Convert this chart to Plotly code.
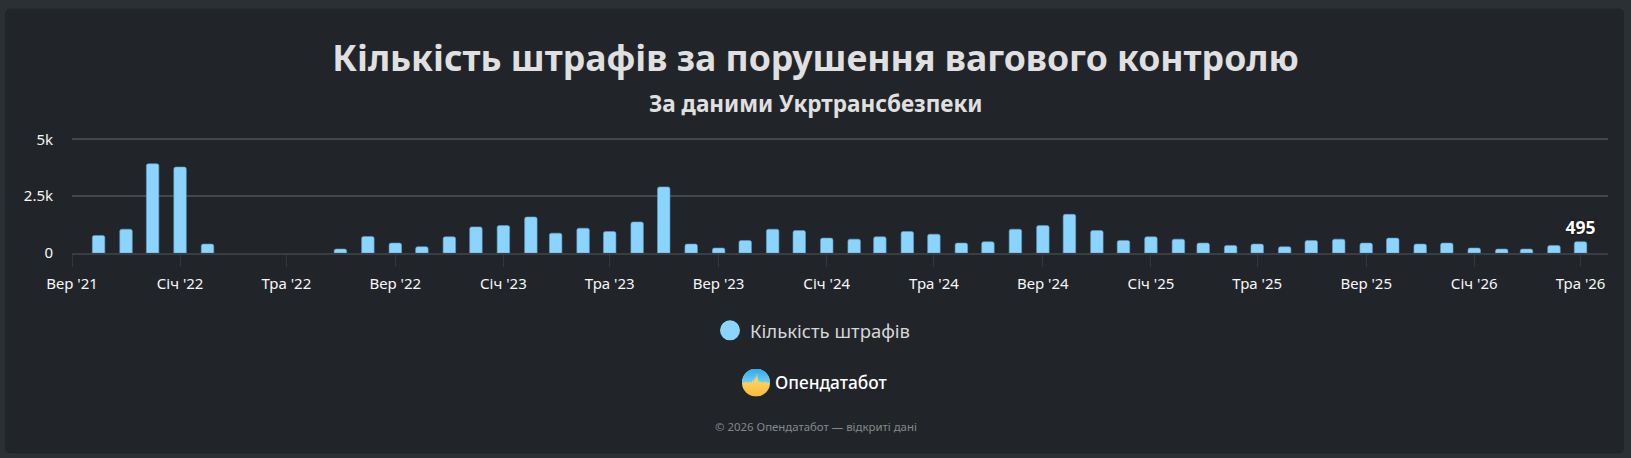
import base64
import plotly.graph_objects as go

months = [
    "2021-09-01","2021-10-01","2021-11-01","2021-12-01","2022-01-01","2022-02-01","2022-03-01","2022-04-01",
    "2022-05-01","2022-06-01","2022-07-01","2022-08-01","2022-09-01","2022-10-01","2022-11-01","2022-12-01",
    "2023-01-01","2023-02-01","2023-03-01","2023-04-01","2023-05-01","2023-06-01","2023-07-01","2023-08-01",
    "2023-09-01","2023-10-01","2023-11-01","2023-12-01","2024-01-01","2024-02-01","2024-03-01","2024-04-01",
    "2024-05-01","2024-06-01","2024-07-01","2024-08-01","2024-09-01","2024-10-01","2024-11-01","2024-12-01",
    "2025-01-01","2025-02-01","2025-03-01","2025-04-01","2025-05-01","2025-06-01","2025-07-01","2025-08-01",
    "2025-09-01","2025-10-01","2025-11-01","2025-12-01","2026-01-01","2026-02-01","2026-03-01","2026-04-01",
    "2026-05-01",
]
fines = [
    None,770,1046,3924,3779,392,None,None,
    None,None,174,727,436,276,712,1148,
    1206,1584,872,1090,945,1366,2906,392,
    218,552,1046,988,654,610,712,945,
    828,436,494,1046,1206,1700,988,552,
    712,610,436,334,392,276,552,610,
    436,654,392,436,218,174,174,334,
    495,
]
point_labels = [""] * (len(months) - 1) + ["495"]

tick_dates = [
    "2021-09-01","2022-01-01","2022-05-01","2022-09-01","2023-01-01","2023-05-01","2023-09-01",
    "2024-01-01","2024-05-01","2024-09-01","2025-01-01","2025-05-01","2025-09-01","2026-01-01","2026-05-01",
]
tick_labels = [
    "Вер '21","Січ '22","Тра '22","Вер '22","Січ '23","Тра '23","Вер '23",
    "Січ '24","Тра '24","Вер '24","Січ '25","Тра '25","Вер '25","Січ '26","Тра '26",
]
y_ticks = [0, 2500, 5000]
y_labels = ["0", "2.5k", "5k"]
y_top = 5100

W, H = 1631, 458
L, R, BASE = 72, 1608, 253
T = BASE - 114 * y_top / 5000
FONT = "Noto Sans"
BAR = "#8bd4ff"

logo_svg = """<svg xmlns='http://www.w3.org/2000/svg' viewBox='0 0 56 56'>
<defs>
<linearGradient id='b' x1='0' y1='0' x2='0' y2='1'><stop offset='0' stop-color='#2fa8ee'/><stop offset='1' stop-color='#6fd0fa'/></linearGradient>
<linearGradient id='y' x1='0' y1='0' x2='0' y2='1'><stop offset='0' stop-color='#ffe47a'/><stop offset='1' stop-color='#f9b93a'/></linearGradient>
<clipPath id='c'><circle cx='28' cy='28' r='28'/></clipPath></defs>
<g clip-path='url(#c)'>
<rect width='56' height='56' fill='url(#y)'/>
<path d='M0 0H56V28H50L47 25L44 28L41 26L38 28L36 24L34 27L32 22L30 9L28 22L26 15L24 26L21 23L19 28L15 26L12 28L8 26L4 28H0Z' fill='url(#b)'/>
</g></svg>"""
logo_uri = "data:image/svg+xml;base64," + base64.b64encode(logo_svg.encode()).decode()


def X(v):
    return (v - L) / (R - L)


def Y(v):
    return (BASE - v) / (BASE - T)


def panel_path(x0, y0, x1, y1, r):
    pts = [
        ("M", x0, y0 + r), ("Q", x0, y0, x0 + r, y0), ("L", x1 - r, y0), ("Q", x1, y0, x1, y0 + r),
        ("L", x1, y1 - r), ("Q", x1, y1, x1 - r, y1), ("L", x0 + r, y1), ("Q", x0, y1, x0, y1 - r),
    ]
    out = []
    for p in pts:
        if len(p) == 3:
            out.append(f"{p[0]} {X(p[1]):.6f} {Y(p[2]):.6f}")
        else:
            out.append(f"{p[0]} {X(p[1]):.6f} {Y(p[2]):.6f} {X(p[3]):.6f} {Y(p[4]):.6f}")
    return " ".join(out) + " Z"


fig = go.Figure()
fig.add_trace(go.Bar(
    x=months, y=fines, text=point_labels, textposition="outside", cliponaxis=False, constraintext="none",
    textfont=dict(family=FONT, size=17.5, color="#ffffff", weight="bold", shadow="0 0 2px #000000"),
    marker=dict(color=BAR, line=dict(color="#5f9dc2", width=0.6), cornerradius=2),
    width=14.1 * 86400000, showlegend=False, hoverinfo="x+y",
))
fig.add_trace(go.Scatter(
    x=[None], y=[None], mode="markers", name="Кількість штрафів",
    marker=dict(color=BAR, size=16, symbol="circle", line=dict(color=BAR, width=4)),
))

fig.update_layout(
    width=W, height=H, autosize=False,
    paper_bgcolor="#2b3035", plot_bgcolor="rgba(0,0,0,0)",
    margin=dict(l=L, r=W - R, t=T, b=H - BASE),
    font=dict(family=FONT, color="#ffffff"),
    showlegend=True,
    title=dict(
        text="Кількість штрафів за порушення вагового контролю",
        x=0.5, xanchor="center", xref="container", y=1 - 59 / H, yanchor="middle", yref="container",
        font=dict(family=FONT, size=35.6, color="#e0e0e0", weight="bold"),
    ),
    legend=dict(
        orientation="h", x=X(813), xanchor="center",
        y=Y(331), yanchor="middle",
        font=dict(family=FONT, size=18.5, color="#d6d6d6"), bgcolor="rgba(0,0,0,0)",
        itemsizing="trace",
    ),
    xaxis=dict(
        type="date", range=["2021-09-01", "2026-06-01"],
        tickmode="array", tickvals=tick_dates, ticktext=tick_labels,
        ticks="outside", ticklen=12, tickcolor="#33373b", tickwidth=1,
        ticklabelstandoff=4,
        tickfont=dict(family=FONT, size=15, color="#f7f7f7"),
        showline=True, linecolor="#3a3d41", linewidth=1.5, showgrid=False, zeroline=False,
    ),
    yaxis=dict(
        range=[0, y_top], tickmode="array", tickvals=y_ticks, ticktext=y_labels,
        ticks="", ticklabelstandoff=18,
        tickfont=dict(family=FONT, size=15, color="#f7f7f7"),
        showgrid=True, gridcolor="#45484b", gridwidth=1.5, zeroline=False, showline=False,
    ),
    shapes=[dict(type="path", path=panel_path(5, 8, 1624, 454, 6), xref="paper", yref="paper",
                 fillcolor="#212529", line=dict(width=0), layer="below")],
    images=[dict(source=logo_uri, xref="paper", yref="paper", x=X(742), y=Y(369), sizex=28 / (R - L), sizey=28 / (BASE - T),
                 xanchor="left", yanchor="top", sizing="stretch", layer="above")],
    annotations=[
        dict(text="<b>За даними Укртрансбезпеки</b>", x=X(815.5), y=Y(103), xref="paper", yref="paper",
             xanchor="center", yanchor="middle", showarrow=False,
             font=dict(family=FONT, size=22.5, color="#e0e0e0")),
        dict(text="Опендатабот", x=X(773), y=Y(383), xref="paper", yref="paper",
             xanchor="left", yanchor="middle", showarrow=False,
             font=dict(family=FONT, size=17.3, color="#ffffff", weight=500)),
        dict(text="© 2026 Опендатабот — відкриті дані", x=X(815.5), y=Y(427), xref="paper", yref="paper",
             xanchor="center", yanchor="middle", showarrow=False,
             font=dict(family=FONT, size=11.4, color="#85888b")),
    ],
)

fig.write_html("out.html", config={"displayModeBar": False},
               post_script="document.body.style.margin='0';document.body.style.overflow='hidden';")
